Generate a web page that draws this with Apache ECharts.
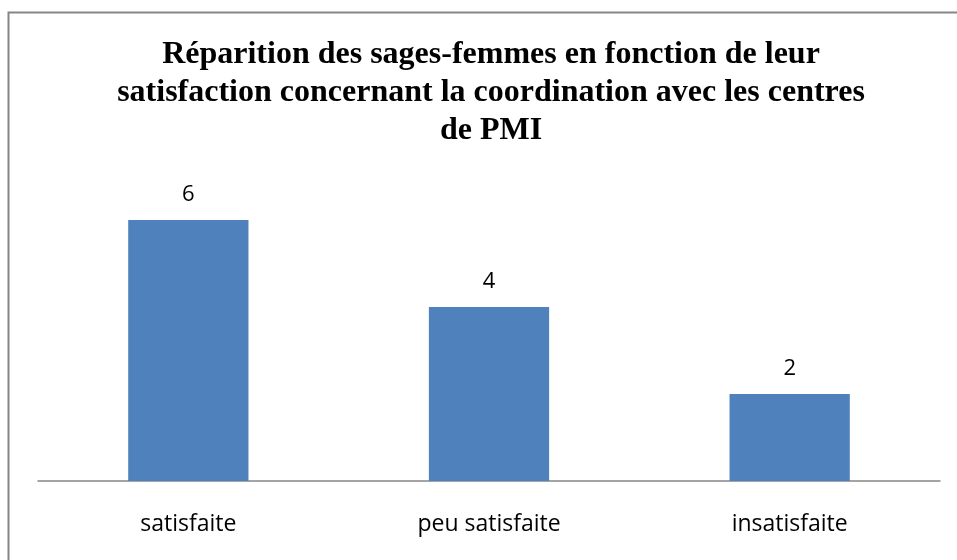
<!DOCTYPE html>
<html>
<head>
<meta charset="utf-8">
<script src="https://cdn.jsdelivr.net/npm/echarts@6/dist/echarts.min.js"></script>
<style>
  html, body { margin: 0; padding: 0; background: #fff; }
  #chart { width: 957px; height: 560px; }
</style>
</head>
<body>
<div id="chart"></div>
<script>
var categories = ['satisfaite', 'peu satisfaite', 'insatisfaite'];
var values = [6, 4, 2];

var chart = echarts.init(document.getElementById('chart'));
var option = {
  animation: false,
  graphic: [{
    type: 'rect',
    shape: { x: 8.5, y: 12.5, width: 1000, height: 600 },
    style: { fill: 'none', stroke: '#868686', lineWidth: 2 }
  }],
  title: {
    text: 'Réparition des sages-femmes en fonction de leur\nsatisfaction concernant la coordination avec les centres\nde PMI',
    left: 486,
    top: 31,
    textAlign: 'center',
    textStyle: {
      fontFamily: 'Liberation Serif',
      fontWeight: 'bold',
      fontSize: 32,
      lineHeight: 38,
      color: '#000'
    }
  },
  grid: { left: 38, right: 17, top: 133, bottom: 79 },
  xAxis: {
    type: 'category',
    data: categories,
    axisLine: { lineStyle: { color: '#868686', width: 1.5 } },
    axisTick: { show: false },
    axisLabel: {
      margin: 32,
      fontFamily: 'Open Sans',
      fontSize: 23,
      color: '#000'
    }
  },
  yAxis: {
    type: 'value',
    min: 0,
    max: 8,
    show: false,
    splitLine: { show: false }
  },
  series: [{
    type: 'bar',
    data: values,
    barWidth: '40%',
    itemStyle: { color: '#4F81BD' },
    label: {
      show: true,
      position: 'top',
      distance: 14,
      fontFamily: 'Open Sans',
      fontSize: 22,
      color: '#000'
    }
  }]
};
chart.setOption(option);
</script>
</body>
</html>
